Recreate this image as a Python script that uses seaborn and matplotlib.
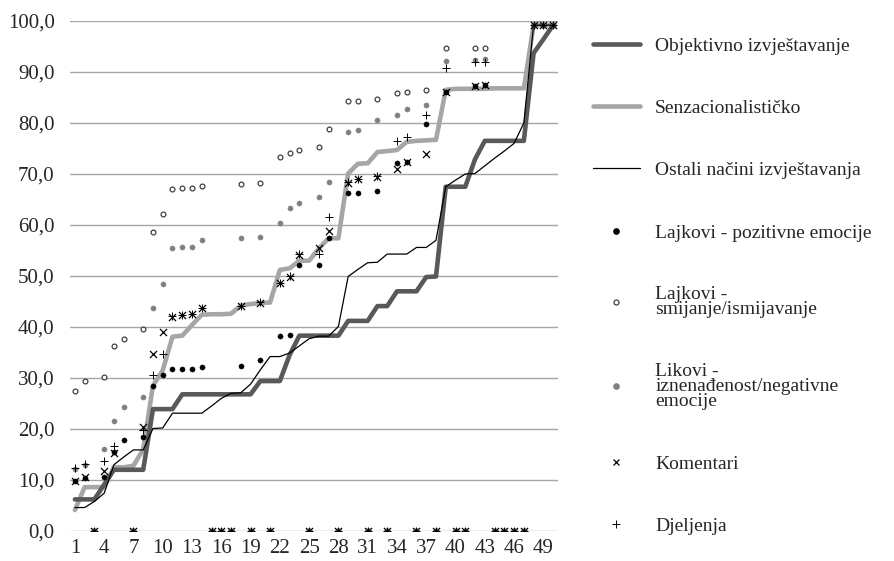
import numpy as np
import pandas as pd
import matplotlib
matplotlib.use("Agg")
import matplotlib.pyplot as plt
import seaborn as sns
from matplotlib.lines import Line2D
from matplotlib.ticker import FuncFormatter

nan = np.nan
x = list(range(1, 51))

objektivno = [6.2, 6.2, 6.2, 9.1, 12.0, 12.0, 12.0, 12.0, 23.9, 23.9,
              23.9, 26.8, 26.8, 26.8, 26.8, 26.8, 26.8, 26.8, 26.8, 29.4,
              29.4, 29.4, 34.5, 38.3, 38.3, 38.3, 38.3, 38.3, 41.2, 41.2,
              41.2, 44.1, 44.1, 47.0, 47.0, 47.0, 49.8, 49.9, 67.5, 67.5,
              67.5, 72.9, 76.5, 76.5, 76.5, 76.5, 76.5, 93.7, 96.4, 99.2]
senzacionalisticko = [4.1, 8.6, 8.6, 8.6, 12.5, 12.5, 12.8, 16.0, 28.5, 31.5,
                      38.1, 38.3, 40.4, 42.4, 42.5, 42.5, 42.6, 44.2, 44.5, 44.7,
                      44.8, 51.2, 51.5, 53.0, 53.0, 55.4, 57.4, 57.4, 70.1, 72.0,
                      72.1, 74.3, 74.5, 74.7, 76.3, 76.5, 76.6, 76.7, 86.5, 86.7,
                      86.7, 86.7, 86.7, 86.8, 86.8, 86.8, 86.8, 99.2, 99.2, 99.2]
ostali = [4.6, 4.6, 5.8, 7.4, 13.0, 14.5, 15.9, 15.9, 20.1, 20.2,
          23.1, 23.1, 23.1, 23.1, 24.5, 26.0, 27.0, 27.1, 28.8, 31.6,
          34.2, 34.2, 34.9, 36.3, 37.7, 38.2, 38.2, 40.1, 49.9, 51.3,
          52.6, 52.7, 54.3, 54.3, 54.3, 55.6, 55.6, 57.0, 67.5, 68.8,
          70.0, 70.1, 71.6, 73.1, 74.5, 76.0, 80.0, 99.2, 99.2, 99.2]

lajkovi_pozitivne = [9.8, 10.3, 0, 10.5, 15.5, 17.8, 0, 18.5, 28.5, 30.5,
                     31.7, 31.8, 31.8, 32.1, 0, 0, 0, 32.4, 0, 33.5,
                     0, 38.2, 38.4, 52.2, 0, 52.2, 57.5, 0, 66.2, 66.3,
                     0, 66.7, 0, 72.2, 72.4, 0, 79.8, 0, 86.0, 0,
                     0, 87.3, 87.5, 0, 0, 0, 0, 99.2, 99.2, 99.2]
lajkovi_smijanje = [27.5, 29.4, 0, 30.1, 36.3, 37.6, 0, 39.7, 58.6, 62.1,
                    67.0, 67.2, 67.2, 67.7, 0, 0, 0, 68.0, 0, 68.2,
                    0, 73.4, 74.1, 74.7, 0, 75.2, 78.8, 0, 84.3, 84.3,
                    0, 84.8, 0, 85.8, 86.1, 0, 86.5, 0, 94.8, 0,
                    0, 94.8, 94.8, 0, 0, 0, 0, 99.2, 99.2, 99.2]
likovi_iznenadenost = [12.1, 12.9, 0, 16.0, 21.6, 24.4, 0, 26.2, 43.8, 48.4,
                       55.4, 55.6, 55.6, 57.1, 0, 0, 0, 57.4, 0, 57.6,
                       0, 60.3, 63.3, 64.4, 0, 65.4, 68.4, 0, 78.3, 78.6,
                       0, 80.6, 0, 81.6, 82.7, 0, 83.5, 0, 92.1, 0,
                       0, 92.4, 92.5, 0, 0, 0, 0, 99.2, 99.2, 99.2]
komentari = [9.8, 10.5, 0, 11.8, 15.2, nan, 0, 20.3, 34.7, 39.0,
             42.0, 42.3, 42.5, 43.7, 0, 0, 0, 44.1, 0, 44.8,
             0, 48.7, 49.9, 54.1, 0, 55.4, 58.9, 0, 68.2, 69.0,
             0, 69.5, 0, 71.0, 72.4, 0, 73.9, 0, 86.0, 0,
             0, 87.3, 87.5, 0, 0, 0, 0, 99.2, 99.2, 99.2]
djeljenja = [12.4, 13.1, 0, 13.8, 16.7, nan, 0, 19.8, 30.6, 34.7,
             42.1, 42.4, 42.6, 43.8, 0, 0, 0, 44.2, 0, 44.9,
             0, 48.6, 50.0, 54.3, 0, 54.4, 61.5, 0, 68.4, 69.1,
             0, 69.6, 0, 76.5, 77.2, 0, 81.6, 0, 90.8, 0,
             0, 92.0, 92.0, 0, 0, 0, 0, 99.2, 99.2, 99.2]

labels = ["Objektivno izvještavanje", "Senzacionalističko", "Ostali načini izvještavanja",
          "Lajkovi - pozitivne emocije", "Lajkovi -\nsmijanje/ismijavanje",
          "Likovi -\niznenađenost/negativne\nemocije", "Komentari", "Djeljenja"]

sns.set_theme(style="white")
plt.rcParams["font.family"] = ["Liberation Serif", "DejaVu Serif"]

fig = plt.figure(figsize=(8.94, 5.61), dpi=100)
ax = fig.add_axes([70 / 894, 1 - 531 / 561, 488 / 894, 510 / 561])

df = pd.DataFrame({"x": x, "obj": objektivno, "senz": senzacionalisticko, "ost": ostali,
                   "poz": lajkovi_pozitivne, "smij": lajkovi_smijanje,
                   "izn": likovi_iznenadenost, "kom": komentari, "djel": djeljenja})

c_dark, c_light, c_thin = "#595959", "#A6A6A6", "#000000"
sns.lineplot(data=df, x="x", y="senz", ax=ax, color=c_light, linewidth=3.3,
             solid_joinstyle="round", zorder=3)
sns.lineplot(data=df, x="x", y="obj", ax=ax, color=c_dark, linewidth=3.3,
             solid_joinstyle="round", zorder=3)
sns.lineplot(data=df, x="x", y="ost", ax=ax, color=c_thin, linewidth=0.9, zorder=4)

sns.scatterplot(data=df, x="x", y="poz", ax=ax, color="black", edgecolor="black",
                s=14, linewidth=0.3, zorder=5)
sns.scatterplot(data=df, x="x", y="smij", ax=ax, color="white", edgecolor="#404040",
                s=12, linewidth=0.9, zorder=5)
sns.scatterplot(data=df, x="x", y="izn", ax=ax, color="#808080", edgecolor="#808080",
                s=14, linewidth=0.3, zorder=5)
sns.scatterplot(data=df, x="x", y="kom", ax=ax, color="black", marker="x",
                s=26, linewidth=0.9, zorder=6)
sns.scatterplot(data=df, x="x", y="djel", ax=ax, color="black", marker="+",
                s=30, linewidth=0.7, zorder=6)

ax.set_xlim(0.5, 50.5)
ax.set_ylim(0, 100)
ax.set_xticks(list(range(1, 51, 3)))
ax.set_yticks(np.arange(0, 101, 10))
ax.yaxis.set_major_formatter(FuncFormatter(lambda v, p: f"{v:.1f}".replace(".", ",")))
ax.grid(axis="y", color="#A6A6A6", linewidth=1.0, zorder=0)
ax.grid(axis="x", visible=False)
for s in ax.spines.values():
    s.set_visible(False)
ax.tick_params(axis="both", length=0, labelsize=15, colors="#262626")
ax.tick_params(axis="y", pad=11)
ax.tick_params(axis="x", pad=6)
ax.set_xlabel("")
ax.set_ylabel("")

handles = [
    Line2D([], [], color=c_dark, lw=3.3),
    Line2D([], [], color=c_light, lw=3.3),
    Line2D([], [], color=c_thin, lw=0.9),
    Line2D([], [], ls="none", marker="o", ms=3.8, mfc="black", mec="black"),
    Line2D([], [], ls="none", marker="o", ms=3.6, mfc="white", mec="#404040", mew=0.9),
    Line2D([], [], ls="none", marker="o", ms=3.8, mfc="#808080", mec="#808080"),
    Line2D([], [], ls="none", marker="x", ms=5, mec="black", mew=0.9),
    Line2D([], [], ls="none", marker="+", ms=5.5, mec="black", mew=0.7),
]
leg = fig.legend(handles, labels, loc="upper left",
                 bbox_to_anchor=(593 / 894, 1 - 37 / 561), frameon=False,
                 fontsize=14, handlelength=2.4, handletextpad=0.8,
                 labelspacing=2.3, borderpad=0, borderaxespad=0)
for t in leg.get_texts():
    t.set_linespacing(0.85)
    t.set_color("#262626")

fig.savefig("out.png", dpi=100)
